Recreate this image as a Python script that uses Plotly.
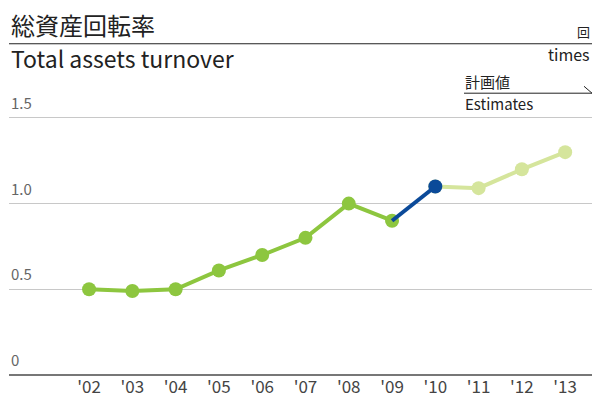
import plotly.graph_objects as go

years = ["'02", "'03", "'04", "'05", "'06", "'07", "'08", "'09", "'10", "'11", "'12", "'13"]
actual = [0.50, 0.49, 0.50, 0.61, 0.70, 0.80, 1.00, 0.90]          # '02 - '09
latest = [0.90, 1.10]                                                 # '09 - '10
estimates = [1.10, 1.09, 1.20, 1.30]                                  # '10 - '13
ytick_vals = [0, 0.5, 1.0, 1.5]
ytick_text = ["0", "0.5", "1.0", "1.5"]

x_all = list(range(len(years)))
green = "#8dc63f"
blue = "#0b4a99"
light = "#d5e59c"
font_jp = "Noto Sans CJK JP, Noto Sans, sans-serif"
H = 268  # plot height in px, used for paper offsets above the plot

fig = go.Figure()
fig.add_trace(go.Scatter(x=x_all[8:12], y=estimates, mode="lines+markers",
                         line=dict(color=light, width=4),
                         marker=dict(color=light, size=14)))
fig.add_trace(go.Scatter(x=x_all[0:8], y=actual, mode="lines+markers",
                         line=dict(color=green, width=4),
                         marker=dict(color=green, size=14)))
fig.add_trace(go.Scatter(x=x_all[7:9], y=latest, mode="lines",
                         line=dict(color=blue, width=4)))
fig.add_trace(go.Scatter(x=[x_all[8]], y=[latest[1]], mode="markers",
                         marker=dict(color=blue, size=14)))

# y labels sit above their gridlines at the left edge
ylabels = [dict(text=t, xref="paper", yref="y", x=0, y=v, xanchor="left", yanchor="bottom",
                yshift=3, showarrow=False, font=dict(size=15, color="#666"))
           for v, t in zip(ytick_vals, ytick_text)]

fig.update_layout(
    width=595, height=401,
    margin=dict(l=9, r=3, t=110, b=23),
    paper_bgcolor="white", plot_bgcolor="white",
    showlegend=False,
    font=dict(family=font_jp, color="#444"),
    xaxis=dict(range=[-1.85, 11.62], tickvals=x_all, ticktext=years,
               showgrid=False, zeroline=False, showline=False,
               tickfont=dict(size=17, color="#444"), ticks="", ticklen=0),
    yaxis=dict(range=[0, 1.546], tickvals=ytick_vals, showticklabels=False,
               showgrid=True, gridcolor="#c8c8c8", gridwidth=1,
               zeroline=True, zerolinecolor="#777", zerolinewidth=2, ticks=""),
    shapes=[
        dict(type="line", xref="paper", yref="paper", x0=0, x1=1, y0=1 + 67/H, y1=1 + 67/H,
             line=dict(color="#222", width=1)),
        dict(type="line", xref="paper", yref="paper", x0=(464-9)/583, x1=(592-9)/583,
             y0=1 + 17/H, y1=1 + 17/H, line=dict(color="#222", width=1)),
        dict(type="line", xref="paper", yref="paper", x0=(584-9)/583, x1=(592-9)/583,
             y0=1 + 24/H, y1=1 + 17/H, line=dict(color="#222", width=1)),
    ],
    annotations=ylabels + [
        dict(text="総資産回転率", xref="paper", yref="paper", x=0, y=1 + 86/H,
             xanchor="left", yanchor="middle", showarrow=False,
             font=dict(size=24, color="#222", family=font_jp)),
        dict(text="Total assets turnover", xref="paper", yref="paper", x=0, y=1 + 53/H,
             xanchor="left", yanchor="middle", showarrow=False,
             font=dict(size=23, color="#222", family=font_jp)),
        dict(text="回", xref="paper", yref="paper", x=1, y=1 + 79/H,
             xanchor="right", yanchor="middle", showarrow=False,
             font=dict(size=13, color="#222", family=font_jp)),
        dict(text="times", xref="paper", yref="paper", x=1, y=1 + 57/H,
             xanchor="right", yanchor="middle", showarrow=False,
             font=dict(size=16, color="#222", family=font_jp)),
        dict(text="計画値", xref="paper", yref="paper", x=(463-9)/583, y=1 + 29/H,
             xanchor="left", yanchor="middle", showarrow=False,
             font=dict(size=15, color="#222", family=font_jp)),
        dict(text="Estimates", xref="paper", yref="paper", x=(463-9)/583, y=1 + 7/H,
             xanchor="left", yanchor="middle", showarrow=False,
             font=dict(size=15, color="#222", family=font_jp)),
    ],
)

fig.write_html("out.html", config={"displayModeBar": False},
               post_script="document.body.style.margin='0';")
